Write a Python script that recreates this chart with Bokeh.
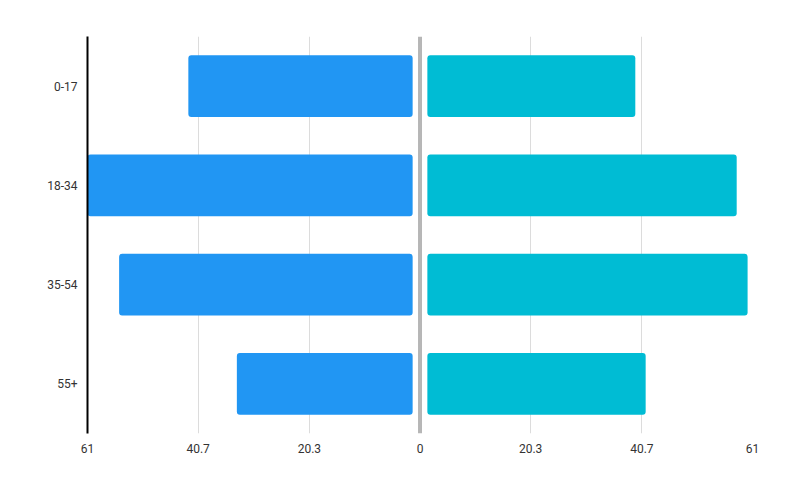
from bokeh.embed import file_html
from bokeh.resources import INLINE
from bokeh.plotting import figure
from bokeh.models import Range1d, FixedTicker, CustomJSTickFormatter, Span

# age groups, top to bottom
age_groups = ["0-17", "18-34", "35-54", "55+"]
left_values = [42.5, 61.0, 55.2, 33.6]
right_values = [39.5, 58.1, 60.1, 41.4]
tick_values = [-61, -40.7, -20.3, 0, 20.3, 40.7, 61]
axis_max = 61

GAP = 1.35  # space between the bars and the centre line
BLUE = "#2196F3"
CYAN = "#00BCD4"
FONT = "Roboto"

p = figure(
    width=792, height=488,
    y_range=list(reversed(age_groups)),
    x_range=Range1d(-axis_max, axis_max),
    output_backend="svg", toolbar_location=None, tools="",
    min_border_left=87, min_border_right=40,
    min_border_top=36, min_border_bottom=55,
)
p.outline_line_color = None
p.background_fill_color = "white"
p.border_fill_color = "white"

p.hbar(y=age_groups, left=[-v for v in left_values], right=-GAP, height=0.62,
       fill_color=BLUE, line_color=None, border_radius=3)
p.hbar(y=age_groups, left=GAP, right=right_values, height=0.62,
       fill_color=CYAN, line_color=None, border_radius=3)

# centre double line (two thin grey lines about 2px apart)
px = 2 * axis_max / 665
p.add_layout(Span(location=-px, dimension="height", line_color="#6e6e6e", line_width=1))
p.add_layout(Span(location=px, dimension="height", line_color="#6e6e6e", line_width=1))

# grids
p.ygrid.grid_line_color = None
p.xgrid.ticker = FixedTicker(ticks=[t for t in tick_values if t not in (0, axis_max, -axis_max)])
p.xgrid.grid_line_color = "#dcdcdc"
p.xgrid.grid_line_width = 1

# x axis: absolute values on both sides
p.xaxis.ticker = FixedTicker(ticks=tick_values)
p.xaxis.formatter = CustomJSTickFormatter(code="return Math.abs(tick).toString();")
p.xaxis.axis_line_color = None
p.xaxis.major_tick_line_color = None
p.xaxis.minor_tick_line_color = None
p.xaxis.major_tick_out = 0
p.xaxis.major_label_standoff = 10

# y axis
p.yaxis.axis_line_color = "black"
p.yaxis.axis_line_width = 2
p.yaxis.major_tick_line_color = None
p.yaxis.minor_tick_line_color = None
p.yaxis.major_tick_out = 0
p.yaxis.major_label_standoff = 10

for ax in (p.xaxis, p.yaxis):
    ax.major_label_text_font = FONT
    ax.major_label_text_font_size = "12px"
    ax.major_label_text_color = "#333333"

open("out.html", "w").write(file_html(p, INLINE))
